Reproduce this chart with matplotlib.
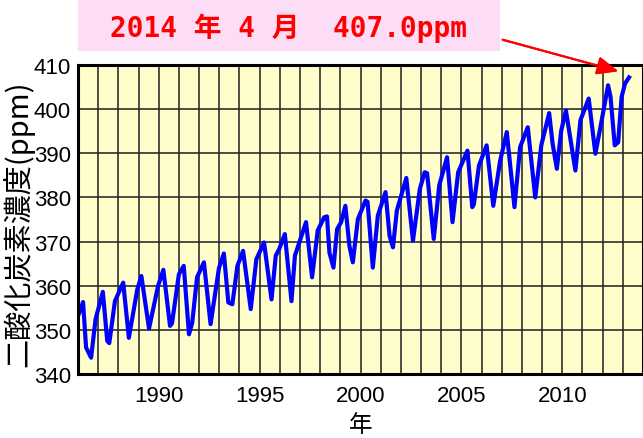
import matplotlib
matplotlib.use("Agg")
import matplotlib.pyplot as plt
from matplotlib.patches import Rectangle
from matplotlib.ticker import MultipleLocator

# monthly-ish CO2 readings (decimal year, ppm)
years = [1986.0, 1986.25, 1986.4, 1986.65, 1986.87, 1987.23, 1987.45, 1987.55, 1987.83,
         1988.24, 1988.52, 1988.94, 1989.14, 1989.52, 1989.97, 1990.23, 1990.56, 1990.66,
         1991.0, 1991.24, 1991.5, 1991.66, 1991.9, 1992.24, 1992.57, 1992.99, 1993.23,
         1993.45, 1993.65, 1993.9, 1994.18, 1994.56, 1994.84, 1995.22, 1995.59, 1995.8,
         1995.97, 1996.25, 1996.58, 1996.75, 1997.3, 1997.6, 1997.88, 1998.2, 1998.34,
         1998.46, 1998.66, 1998.84, 1999.04, 1999.25, 1999.45, 1999.62, 1999.87, 2000.25,
         2000.35, 2000.61, 2000.86, 2001.24, 2001.44, 2001.61, 2001.8, 2002.27, 2002.6,
         2002.94, 2003.18, 2003.3, 2003.63, 2003.9, 2004.29, 2004.56, 2004.84, 2005.3,
         2005.54, 2005.62, 2005.87, 2006.25, 2006.58, 2006.92, 2007.25, 2007.63, 2007.91,
         2008.29, 2008.66, 2008.96, 2009.35, 2009.52, 2009.73, 2009.95, 2010.18, 2010.65,
         2010.9, 2011.31, 2011.64, 2011.89, 2012.27, 2012.39, 2012.6, 2012.77, 2012.94,
         2013.11, 2013.31]
co2_ppm = [353.1, 356.3, 346.0, 343.7, 352.4, 358.6, 347.5, 347.0, 356.5,
           360.7, 348.2, 359.2, 362.2, 350.3, 360.0, 363.6, 350.9, 351.5,
           362.6, 364.5, 349.0, 351.6, 361.9, 365.3, 351.3, 364.1, 367.3,
           356.2, 355.8, 364.5, 367.9, 354.7, 366.0, 369.8, 356.9, 366.8,
           368.3, 371.7, 356.5, 366.8, 374.4, 361.9, 372.5, 375.5, 375.7,
           367.5, 364.1, 372.8, 374.4, 378.1, 369.0, 365.3, 375.1, 379.3,
           379.0, 364.1, 375.9, 381.2, 371.3, 368.7, 377.0, 384.4, 370.2,
           381.9, 385.7, 385.5, 370.6, 382.7, 389.1, 374.4, 385.7, 390.6,
           377.8, 378.5, 387.2, 391.8, 378.1, 388.3, 394.8, 377.8, 391.4,
           395.9, 380.0, 391.8, 399.1, 392.2, 386.5, 395.2, 399.7, 386.1,
           397.5, 402.4, 389.9, 395.9, 405.4, 402.8, 391.8, 392.5, 402.8,
           405.8, 407.2]

y_ticks = [340, 350, 360, 370, 380, 390, 400, 410]
x_ticks = [1990, 1995, 2000, 2005, 2010]
title_text = "2014 年 4 月  407.0ppm"
y_label = "二酸化炭素濃度(ppm)"
x_label = "年"

jp_font = ["Noto Sans CJK JP", "DejaVu Sans"]
mono_font = ["DejaVu Sans Mono", "Noto Sans CJK JP"]
num_font = ["Liberation Sans Narrow", "Liberation Sans", "DejaVu Sans"]

fig = plt.figure(figsize=(6.43, 4.39), dpi=100)
W, H = 643, 439
ax = fig.add_axes([78 / W, 1 - 375 / H, 1 - 78 / W, (375 - 66) / H])
ax.set_facecolor("#fffdcc")

ax.plot(years, co2_ppm, color="#0000ff", linewidth=3, zorder=3)

ax.set_xlim(1986, 2014)
ax.set_ylim(340, 410)
ax.set_xticks(x_ticks)
ax.xaxis.set_minor_locator(MultipleLocator(1))
ax.set_yticks(y_ticks)
ax.grid(which="both", color="#2a2a2a", linewidth=1.3, alpha=0.9, zorder=1)
ax.tick_params(which="both", length=0, labelsize=16)
ax.tick_params(axis="y", pad=5)
ax.tick_params(axis="x", pad=8)
for lbl in ax.get_xticklabels() + ax.get_yticklabels():
    lbl.set_family(num_font)
for sp in ax.spines.values():
    sp.set_linewidth(2.2)
    sp.set_color("black")
    sp.set_zorder(4)

ax.set_ylabel(y_label, family=jp_font, fontsize=21, labelpad=0)
ax.yaxis.set_label_coords(-0.078, 0.49)
ax.set_xlabel(x_label, family=jp_font, fontsize=17, labelpad=5)

# pink title box
fig.patches.append(Rectangle((78 / W, 1 - 52 / H), (500 - 78) / W, 52 / H,
                             transform=fig.transFigure, facecolor="#fddcf6",
                             edgecolor="none", zorder=0))
fig.text(289 / W, 1 - 28 / H, title_text, family=mono_font, fontsize=20,
         fontweight="bold", color="#ff0000", ha="center", va="center")

# red arrow to the latest point
fig.add_artist(plt.annotate("", xy=(621 / W, 1 - 73 / H), xytext=(500 / W, 1 - 40 / H),
                            xycoords="figure fraction", textcoords="figure fraction",
                            arrowprops=dict(arrowstyle="-|>,head_length=1.3,head_width=0.55",
                                            color="#ff0000", linewidth=1.5)))

fig.savefig("out.png", dpi=100)
